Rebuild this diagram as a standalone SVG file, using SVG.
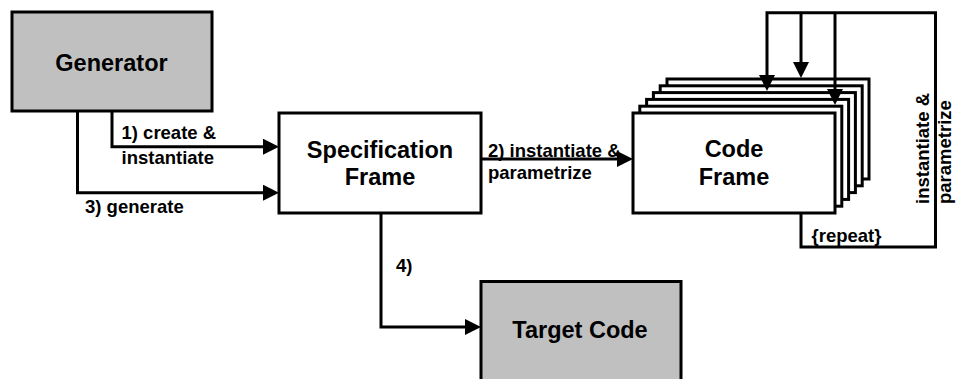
<svg xmlns="http://www.w3.org/2000/svg" width="958" height="379" viewBox="0 0 958 379">
<style>
.box{stroke:#000;stroke-width:3;}
.gray{fill:#c0c0c0;}
.white{fill:#fff;}
.big{font-family:"Liberation Sans",Arial,sans-serif;font-weight:bold;font-size:23.5px;fill:#000;text-anchor:middle;}
.lbl{font-family:"Liberation Sans",Arial,sans-serif;font-weight:bold;font-size:18.5px;fill:#000;}
.con{fill:none;stroke:#000;stroke-width:3;stroke-linejoin:miter;}
</style>
<defs>
<marker id="ah" markerUnits="userSpaceOnUse" markerWidth="16" markerHeight="16" refX="8" refY="8" orient="auto" viewBox="0 0 16 16">
<path d="M0,0 L16,8 L0,16 z" fill="#000"/>
</marker>
</defs>
<rect width="958" height="379" fill="#fff"/>
<g id="generator">
<rect class="box gray" x="12" y="12" width="200" height="99"/>
<text class="big" x="111.5" y="71">Generator</text>
</g>
<g id="specification-frame">
<rect class="box white" x="279" y="113" width="202" height="100"/>
<text class="big" x="380" y="158">Specification</text>
<text class="big" x="380" y="185">Frame</text>
</g>
<g id="code-frame">
<rect class="box white" x="667" y="79" width="202" height="100"/>
<rect class="box white" x="660.2" y="85.8" width="202" height="100"/>
<rect class="box white" x="653.4" y="92.6" width="202" height="100"/>
<rect class="box white" x="646.6" y="99.4" width="202" height="100"/>
<rect class="box white" x="639.8" y="106.2" width="202" height="100"/>
<rect class="box white" x="633" y="113" width="202" height="100"/>
<text class="big" x="734" y="157">Code</text>
<text class="big" x="734" y="184.5">Frame</text>
</g>
<g id="target-code">
<rect class="box gray" x="481" y="281.5" width="200" height="100"/>
<text class="big" x="580" y="338">Target Code</text>
</g>
<g id="connectors">
<path class="con" d="M112,111 V146.7 H271" marker-end="url(#ah)"/>
<path class="con" d="M77.5,111 V192.7 H271" marker-end="url(#ah)"/>
<path class="con" d="M481,159 H625" marker-end="url(#ah)"/>
<path class="con" d="M381,213 V327 H473" marker-end="url(#ah)"/>
<path class="con" d="M801,213 V247 H935.5 V12.7 H767 V83" marker-end="url(#ah)"/>
<path class="con" d="M801,12.7 V70" marker-end="url(#ah)"/>
<path class="con" d="M835,12.7 V97" marker-end="url(#ah)"/>
<text class="lbl" x="121.5" y="139">1) create &amp;</text>
<text class="lbl" x="121.5" y="164">instantiate</text>
<text class="lbl" x="85" y="212.5">3) generate</text>
<text class="lbl" x="488" y="157">2) instantiate &amp;</text>
<text class="lbl" x="488" y="178.5">parametrize</text>
<text class="lbl" x="396" y="271.5">4)</text>
<text class="lbl" x="811.5" y="241.5">{repeat}</text>
<text class="lbl" transform="translate(928.5,204) rotate(-90)">instantiate &amp;</text>
<text class="lbl" transform="translate(950.5,204) rotate(-90)">parametrize</text>
</g>
</svg>
